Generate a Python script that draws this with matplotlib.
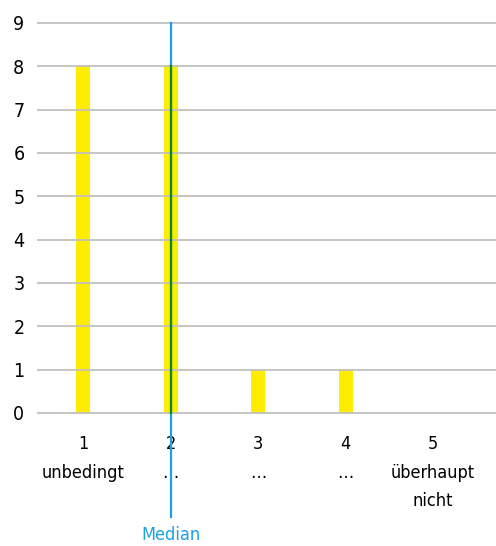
import numpy as np
import matplotlib.pyplot as plt

categories = ['1\nunbedingt', '2\n…', '3\n…', '4\n…', '5\nüberhaupt\nnicht']
counts = [8, 8, 1, 1, 0]
median_pos = 2
y_ticks = list(range(0, 10))

plt.rcParams['font.family'] = ['DejaVu Sans']
plt.rcParams['font.stretch'] = 'condensed'

fig = plt.figure(figsize=(4.96, 5.46), dpi=100)
# axes slightly taller than 0..9 so the outer grid lines are not clipped
ax = fig.add_axes([37 / 496, 1 - 414.3 / 546, 459 / 496, 392.6 / 546])

x = np.arange(1, len(counts) + 1)
ax.bar(x, counts, width=0.16, color='#ffed00', zorder=1)

ax.set_xlim(0.474, 5.72)
ax.set_ylim(-0.03, 9.03)
ax.set_yticks(y_ticks)
ax.set_xticks(x)
ax.set_xticklabels(categories, fontsize=13, linespacing=1.75, va='top')
ax.tick_params(axis='y', labelsize=14, length=0, pad=9)
ax.tick_params(axis='x', length=0, pad=15)
for s in ax.spines.values():
    s.set_visible(False)
ax.yaxis.grid(True, color='#c0c0c0', linewidth=1.3, zorder=2)
ax.set_axisbelow(False)

# median line, runs below the axis to its label
ax.plot([median_pos, median_pos], [9, -2.4], color='#1ba1e2', linewidth=1.6,
        clip_on=False, zorder=3)
ax.plot([median_pos, median_pos], [0, counts[median_pos - 1]], color='#0a8a10',
        linewidth=1.6, zorder=4)
ax.text(median_pos, -2.6, 'Median', color='#1ba1e2', fontsize=13,
        ha='center', va='top', clip_on=False)

fig.savefig('out.png', dpi=100)
